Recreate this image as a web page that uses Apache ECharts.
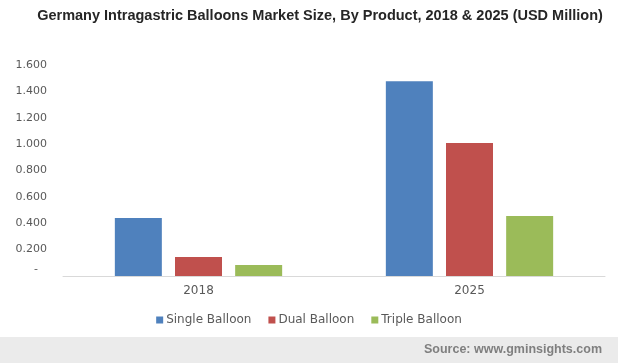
<!DOCTYPE html>
<html>
<head>
<meta charset="utf-8">
<script src="https://cdn.jsdelivr.net/npm/echarts@6/dist/echarts.min.js"></script>
<style>
html,body{margin:0;padding:0;background:#fff;}
#chart{width:618px;height:363px;}
</style>
</head>
<body>
<div id="chart"></div>
<script>
var categories = ['2018', '2025'];
var seriesNames = ['Single Balloon', 'Dual Balloon', 'Triple Balloon'];
var singleBalloon = [0.439, 1.477];
var dualBalloon = [0.144, 1.008];
var tripleBalloon = [0.083, 0.455];
var colors = ['#4f81bd', '#c0504d', '#9bbb59'];

var chart = echarts.init(document.getElementById('chart'));
var dataSets = [singleBalloon, dualBalloon, tripleBalloon];
chart.setOption({
  animation: false,
  title: {
    text: 'Germany Intragastric Balloons Market Size, By Product, 2018 & 2025 (USD Million)',
    left: 315, top: 3, textAlign: 'center',
    textStyle: {fontFamily: 'Liberation Sans', fontWeight: 'bold', fontSize: 14.5, color: '#262626'}
  },
  legend: {
    data: seriesNames,
    top: 309, left: 'center',
    itemWidth: 7, itemHeight: 7, itemGap: 17,
    icon: 'rect',
    textStyle: {fontFamily: 'DejaVu Sans', fontSize: 12, color: '#595959', padding: [0,0,0,-2]}
  },
  grid: {left: 63, right: 13, top: 65, bottom: 87},
  xAxis: {
    type: 'category', data: categories,
    axisLine: {lineStyle: {color: '#d9d9d9'}},
    axisTick: {show: false},
    axisLabel: {fontFamily: 'DejaVu Sans', fontSize: 12, color: '#595959', margin: 9}
  },
  yAxis: {
    type: 'value', min: 0, max: 1.6, interval: 0.2,
    splitLine: {show: false},
    axisLine: {show: false}, axisTick: {show: false},
    axisLabel: {
      fontFamily: 'DejaVu Sans', fontSize: 11, color: '#595959', margin: 16,
      formatter: function (v) { return v === 0 ? '{z|-}' : v.toFixed(3); },
      rich: {z: {fontFamily: 'DejaVu Sans', fontSize: 11, color: '#595959', padding: [0, 9, 14, 0]}}
    }
  },
  series: seriesNames.map(function (n, i) {
    return {
      name: n, type: 'bar', data: dataSets[i],
      barWidth: 47, barGap: '28%',
      itemStyle: {color: colors[i]}
    };
  }),
  graphic: [
    {type: 'rect', left: 0, top: 337, shape: {width: 618, height: 26}, style: {fill: '#ebebeb'}, z: -1},
    {type: 'text', right: 16, top: 343, style: {text: 'Source: www.gminsights.com', font: 'bold 12.5px "Liberation Sans"', fill: '#7f7f7f'}}
  ]
});
</script>
</body>
</html>
